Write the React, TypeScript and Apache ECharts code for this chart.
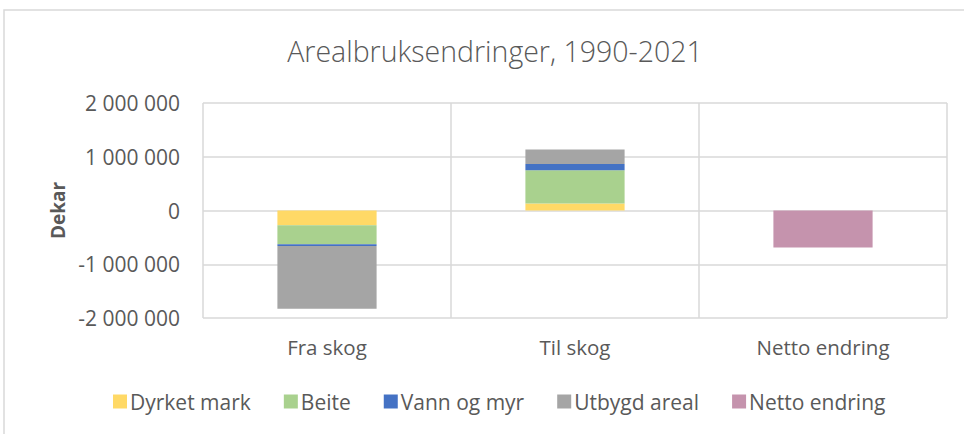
import React, { useEffect, useRef } from "react";
import * as echarts from "echarts";

const categories = ["Fra skog", "Til skog", "Netto endring"];
const dyrketMark = [-275000, 130000, null];
const beite = [-355000, 620000, null];
const vannOgMyr = [-30000, 115000, null];
const utbygdAreal = [-1168000, 270000, null];
const nettoEndring = [null, null, -690000];
const yTicks = { min: -2000000, max: 2000000, interval: 1000000 };

const FONT = "'Open Sans', 'Noto Sans', sans-serif";
const TXT = "#595959";

const fmt = (v: number) => String(v).replace(/\B(?=(\d{3})+(?!\d))/g, " ");

export default function App() {
  const ref = useRef<HTMLDivElement>(null);
  useEffect(() => {
    if (!ref.current) return;
    const chart = echarts.init(ref.current, null, { renderer: "svg" });
    const mk = (name: string, data: (number | null)[], color: string) => ({
      name,
      type: "bar",
      stack: "total",
      data,
      barCategoryGap: "60%",
      itemStyle: { color },
      emphasis: { disabled: true },
    });
    chart.setOption({
      animation: false,
      backgroundColor: "#ffffff",
      title: {
        text: "Arealbruksendringer, 1990-2021",
        left: 490,
        top: 31,
        textAlign: "center",
        textStyle: { fontFamily: FONT, fontWeight: 300, fontSize: 28.5, color: TXT },
      },
      graphic: [
        {
          type: "rect",
          shape: { x: 4, y: 10, width: 1100, height: 600 },
          style: { fill: "none", stroke: "#d9d9d9", lineWidth: 1.5 },
          silent: true,
        },
      ],
      legend: {
        bottom: 17,
        left: 108,
        icon: "rect",
        itemWidth: 14,
        itemHeight: 14,
        itemGap: 33,
        textStyle: { fontFamily: FONT, fontSize: 21, color: TXT, padding: [0, 0, 0, -2] },
        data: ["Dyrket mark", "Beite", "Vann og myr", "Utbygd areal", "Netto endring"],
      },
      grid: { left: 203, right: 17, top: 103, bottom: 116, containLabel: false },
      xAxis: {
        type: "category",
        data: categories,
        axisLine: { show: false },
        axisTick: { show: false },
        splitLine: { show: true, lineStyle: { color: "#d9d9d9", width: 1.5 } },
        axisLabel: { fontFamily: FONT, fontSize: 20.5, color: TXT, margin: 18 },
        position: "bottom",
      },
      yAxis: {
        type: "value",
        min: yTicks.min,
        max: yTicks.max,
        interval: yTicks.interval,
        name: "Dekar",
        nameLocation: "middle",
        nameGap: 129,
        nameTextStyle: { fontFamily: FONT, fontWeight: "bold", fontSize: 19, color: TXT },
        axisLine: { show: false },
        axisTick: { show: false },
        splitLine: { lineStyle: { color: "#d9d9d9", width: 1.5 } },
        axisLabel: { fontFamily: FONT, fontSize: 21, color: TXT, margin: 23, formatter: fmt },
      },
      series: [
        mk("Dyrket mark", dyrketMark, "#FFD966"),
        mk("Beite", beite, "#A9D18E"),
        mk("Vann og myr", vannOgMyr, "#4472C4"),
        mk("Utbygd areal", utbygdAreal, "#A5A5A5"),
        mk("Netto endring", nettoEndring, "#C593AD"),
      ],
    });
    return () => chart.dispose();
  }, []);
  return (
    <div
      ref={ref}
      style={{ position: "absolute", left: 0, top: 0, width: 964, height: 434 }}
    />
  );
}
